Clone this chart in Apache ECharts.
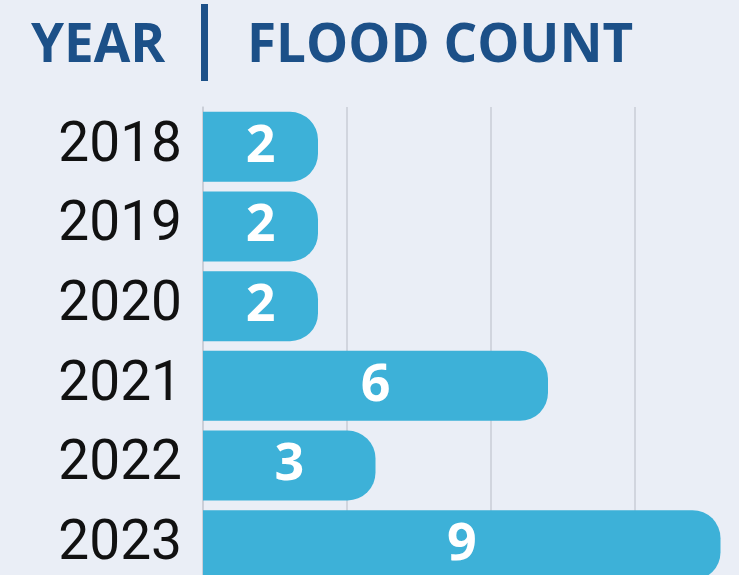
<!DOCTYPE html>
<html>
<head>
<meta charset="utf-8">
<script src="https://cdn.jsdelivr.net/npm/echarts@6/dist/echarts.min.js"></script>
<style>
html,body{margin:0;padding:0;background:#eaeef6;overflow:hidden;}
#main{width:778px;height:585px;}
</style>
</head>
<body>
<div id="main"></div>
<script>
const years = ['2018', '2019', '2020', '2021', '2022', '2023'];
const floodCounts = [2, 2, 2, 6, 3, 9];
const titleLeft = 'YEAR';
const titleRight = 'FLOOD COUNT';

const chart = echarts.init(document.getElementById('main'), null, {renderer: 'canvas'});
chart.setOption({
  backgroundColor: '#eaeef6',
  animation: false,
  title: [
    {text: titleLeft, left: 26, top: 15, textStyle: {fontFamily: 'Open Sans', fontWeight: 'bold', fontSize: 53, color: '#1c5088'}},
    {text: titleRight, left: 242, top: 15, textStyle: {fontFamily: 'Open Sans', fontWeight: 'bold', fontSize: 53, color: '#1c5088'}}
  ],
  graphic: [
    {type: 'rect', left: 201, top: 4, shape: {width: 7, height: 77}, style: {fill: '#1c5088'}}
  ],
  grid: {left: 203, right: 0, top: 107, bottom: 0, containLabel: false},
  xAxis: {
    type: 'value', min: 0, max: 10, interval: 2.5,
    axisLabel: {show: false}, axisTick: {show: false}, axisLine: {show: false},
    splitLine: {show: true, lineStyle: {color: '#c9cdd6', width: 1.5}}
  },
  yAxis: {
    type: 'category', data: years, inverse: true,
    axisTick: {show: false},
    axisLine: {show: true, lineStyle: {color: '#c9cdd6', width: 1.5}},
    axisLabel: {fontFamily: 'Roboto', fontSize: 55, color: '#111111', margin: 21}
  },
  series: [{
    type: 'bar', data: floodCounts, barWidth: 70,
    itemStyle: {color: '#3db1d8', borderRadius: [0, 28, 28, 0]},
    label: {show: true, position: 'inside', color: '#ffffff', fontFamily: 'Open Sans', fontWeight: 'bold', fontSize: 52}
  }]
});
</script>
</body>
</html>
